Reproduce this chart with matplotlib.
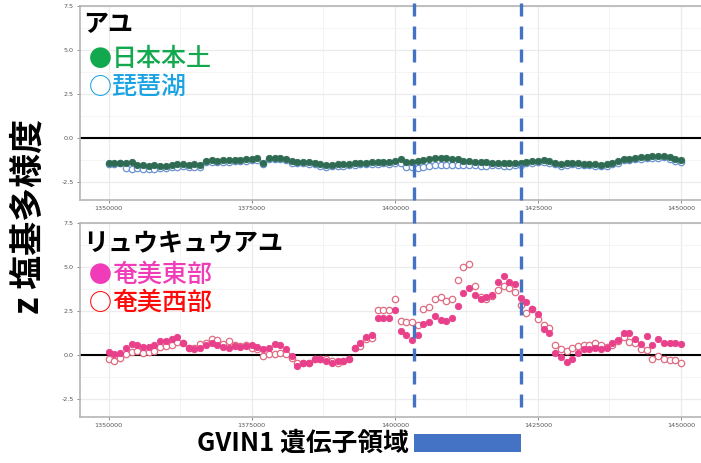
import numpy as np
import matplotlib
matplotlib.use("Agg")
import matplotlib.pyplot as plt
import matplotlib.transforms as mtransforms
from matplotlib.lines import Line2D
from matplotlib.patches import Rectangle
from matplotlib.ticker import FixedLocator

plt.rcParams['font.family'] = ['Noto Sans CJK JP', 'DejaVu Sans']
plt.rcParams['axes.unicode_minus'] = False

# genomic positions (1 kb windows)
positions = np.arange(1350000, 1450001, 1000)
x_ticks = [1350000, 1375000, 1400000, 1425000, 1450000]
x_tick_labels = ["1350000", "1375000", "1400000", "1425000", "1450000"]
y_ticks = [-2.5, 0.0, 2.5, 5.0, 7.5]
y_tick_labels = ["-2.5", "0.0", "2.5", "5.0", "7.5"]
gene_region = (1403300, 1422000)

# Ayu: mainland Japan (filled) and Lake Biwa (open)
ayu_mainland = [
    -1.43, -1.40, -1.38, -1.42, -1.36,
    -1.50, -1.53, -1.55, -1.52, -1.56, -1.55, -1.50, -1.48, -1.47, -1.50, -1.48, -1.50,
    -1.27, -1.25, -1.27, -1.24, -1.25, -1.22, -1.22, -1.20,
    -1.15, -1.13, -1.38,
    -1.12, -1.10, -1.12, -1.15,
    -1.28, -1.32, -1.33, -1.35, -1.38,
    -1.48, -1.52, -1.50, -1.48, -1.45,
    -1.45, -1.42, -1.40, -1.38, -1.35, -1.36, -1.33, -1.34, -1.30,
    -1.18,
    -1.35, -1.32, -1.30, -1.25,
    -1.18, -1.12, -1.10, -1.12, -1.15, -1.20,
    -1.28, -1.30, -1.33, -1.35, -1.36, -1.38, -1.40, -1.40, -1.42, -1.40, -1.38,
    -1.33, -1.30, -1.28, -1.25, -1.30, -1.38,
    -1.48, -1.42, -1.40, -1.42, -1.44, -1.45, -1.48, -1.50, -1.46, -1.40, -1.30,
    -1.15, -1.18, -1.10, -1.08, -1.05, -1.03, -1.00,
    -0.98, -1.05, -1.20, -1.25,
]
ayu_biwa = [
    -1.45, -1.45, -1.42,
    -1.68, -1.72, -1.70, -1.73, -1.75, -1.72, -1.70, -1.68,
    -1.63, -1.62, -1.60, -1.63, -1.62, -1.65,
    -1.35, -1.33, -1.35, -1.32, -1.33, -1.30, -1.30, -1.28, -1.23, -1.22, -1.45, -1.20, -1.18, -1.20, -1.23,
    -1.38, -1.42, -1.43, -1.45, -1.48, -1.58, -1.62, -1.60, -1.58, -1.55,
    -1.52, -1.50, -1.48, -1.46, -1.44, -1.45, -1.42, -1.45, -1.42,
    -1.40,
    -1.62, -1.65, -1.68, -1.62, -1.55, -1.52,
    -1.50, -1.52, -1.53, -1.52, -1.50, -1.52, -1.53, -1.55, -1.55, -1.53, -1.52, -1.55, -1.55, -1.53, -1.50,
    -1.42, -1.38, -1.36, -1.33, -1.38, -1.48,
    -1.56, -1.50, -1.48, -1.50, -1.52, -1.53, -1.56, -1.58, -1.55, -1.48, -1.38,
    -1.22, -1.25, -1.18, -1.15, -1.12, -1.12, -1.10,
    -1.08, -1.15, -1.30, -1.35,
]

# Ryukyu-ayu: east Amami (filled) and west Amami (open)
amami_east = [
    0.19, 0.10, 0.13, 0.44, 0.62, 0.56, 0.48, 0.48, 0.56, 0.81,
    0.81, 0.90, 1.06, 0.68, 0.44, 0.38, 0.44, 0.56, 0.68, 0.56,
    0.48, 0.44, 0.53, 0.48, 0.53, 0.56, 0.48, 0.38, 0.44, 0.62,
    0.56, 0.34, -0.04, -0.61, -0.42, -0.46, -0.23, -0.19, -0.32, -0.46,
    -0.32, -0.32, -0.23, 0.44, 0.72,
    1.06, 1.14, 2.14, 2.14, 2.14, 2.58, 1.38, 1.14, 0.87, 1.14,
    1.76, 1.89, 2.23, 2.01, 1.95, 2.14, 2.77, 3.52, 3.84, 3.41,
    3.18, 3.28, 3.41, 4.17, 4.47, 4.13, 4.03, 3.22, 3.03, 2.65,
    2.33, 1.48, 1.25, 0.15, -0.08, -0.38, -0.23, 0.15, 0.34, 0.38,
    0.44, 0.38, 0.44, 0.68, 0.87, 1.29, 1.25, 0.95, 0.62, 1.10,
    0.56, 0.95, 0.72, 0.72, 0.72, 0.62,
]
amami_west = [
    -0.19, -0.32, -0.13, 0.06, 0.19, 0.25, 0.15, 0.19, 0.25, 0.48,
    0.53, 0.56, 0.76, 0.68, 0.44, 0.44, 0.62, 0.68, 0.95, 0.87,
    0.62, 0.81, 0.56, 0.53, 0.56, 0.44, 0.34, -0.04, 0.06, 0.06,
    0.15, 0.06, -0.13, -0.46, -0.42, -0.42, -0.19, -0.19, -0.23, -0.32,
    -0.42, -0.32, -0.19, 0.44, 0.53,
    0.90, 1.00, 2.58, 2.58, 2.58, 3.18, 1.95, 1.89, 1.86, 1.70,
    2.65, 2.71, 3.18, 3.33, 3.08, 3.18, 4.28, 4.98, 5.17, 3.94,
    3.30, 3.20, 3.35, 3.70, 3.90, 3.84, 3.56, 2.84, 2.39, 2.60,
    2.08, 1.70, 1.57, 0.57, 0.38, 0.25, 0.44, 0.53, 0.56, 0.56,
    0.68, 0.56, 0.48, 0.56, 0.81, 1.06, 0.76, 0.68, 0.34, 0.30,
    -0.23, -0.04, -0.23, -0.27, -0.27, -0.42,
]

W, H = 701, 463
fig = plt.figure(figsize=(W / 100, H / 100), dpi=100)


def fx(px):
    return px / W


def fy(py):
    return 1 - py / H


ax_top = fig.add_axes([fx(80), fy(200), fx(629.6), 194 / H])
ax_bot = fig.add_axes([fx(80), fy(417), fx(629.6), 194 / H])

for ax in (ax_top, ax_bot):
    ax.set_xlim(1345000, 1455000)
    ax.set_ylim(-3.5, 7.5)
    ax.xaxis.set_major_locator(FixedLocator(x_ticks))
    ax.set_xticklabels(x_tick_labels)
    ax.xaxis.set_minor_locator(FixedLocator([1362500, 1387500, 1412500, 1437500]))
    ax.yaxis.set_major_locator(FixedLocator(y_ticks))
    ax.set_yticklabels(y_tick_labels)
    ax.yaxis.set_minor_locator(FixedLocator([-1.25, 1.25, 3.75, 6.25]))
    ax.grid(which='major', color='#EBEBEB', linewidth=0.9)
    ax.grid(which='minor', color='#F3F3F3', linewidth=0.6)
    ax.set_axisbelow(True)
    for s in ax.spines.values():
        s.set_color('#B5B5B5')
        s.set_linewidth(1.2)
    ax.tick_params(which='major', length=2.5, width=0.6, color='#777777',
                   labelsize=4.6, labelcolor='#555555', pad=2)
    ax.tick_params(which='minor', length=0)
    for lab in ax.get_xticklabels() + ax.get_yticklabels():
        lab.set_family('DejaVu Sans')
    ax.axhline(0, color='black', linewidth=1.5, zorder=2)

ms = 4.6
ax_top.plot(positions, ayu_biwa, linestyle='none', marker='o', markersize=ms,
            markerfacecolor='white', markeredgecolor='#6A93CF', markeredgewidth=0.9, zorder=3)
ax_top.plot(positions, ayu_mainland, linestyle='none', marker='o', markersize=ms,
            markerfacecolor='#2F6B53', markeredgecolor='#2F6B53', markeredgewidth=0.6, zorder=4)

ax_bot.plot(positions, amami_west, linestyle='none', marker='o', markersize=ms,
            markerfacecolor='white', markeredgecolor='#E06C82', markeredgewidth=0.9, zorder=3)
ax_bot.plot(positions, amami_east, linestyle='none', marker='o', markersize=ms,
            markerfacecolor='#E8408A', markeredgecolor='#E8408A', markeredgewidth=0.6, zorder=4)

# panel labels
label_fs = 18
fig.text(fx(83), fy(25), "アユ", fontsize=label_fs,
         fontweight='bold', color='black', va='center', ha='left')
fig.text(fx(83), fy(243), "リュウキュウアユ", fontsize=label_fs,
         fontweight='bold', color='black', va='center', ha='left')

group_labels = [
    ("●", "日本本土", '#12A84E', 59),
    ("○", "琵琶湖", '#1AA3E3', 87),
    ("●", "奄美東部", '#F03CB8', 275),
    ("○", "奄美西部", '#FF0A0A', 303),
]
for symbol, name, color, ypx in group_labels:
    fig.text(fx(89), fy(ypx), symbol, fontsize=label_fs * 0.92, fontweight='bold',
             color=color, va='center', ha='left')
    fig.text(fx(112), fy(ypx), name, fontsize=label_fs, fontweight='medium',
             color=color, va='center', ha='left')

# shared y label
fig.text(fx(28), fy(216), "z 塩基多様度", rotation=90, fontsize=24.5, fontweight='bold',
         va='center', ha='center', color='black')

# gene region markers spanning both panels
blend = mtransforms.blended_transform_factory(ax_bot.transData, fig.transFigure)
for gx in gene_region:
    fig.add_artist(Line2D([gx, gx], [fy(3), fy(414)], transform=blend,
                          color='#4472C4', linewidth=2.4, linestyle=(0, (3.9, 3.0)),
                          dash_capstyle='butt', zorder=10))

fig.add_artist(Rectangle((gene_region[0], fy(452)), gene_region[1] - gene_region[0],
                         18 / H, transform=blend, facecolor='#4472C4',
                         edgecolor='none', zorder=10))
fig.text(fx(409), fy(443), "GVIN1 遺伝子領域", fontsize=18.5, fontweight='bold',
         ha='right', va='center', color='black')

fig.savefig("out.png", dpi=100)
